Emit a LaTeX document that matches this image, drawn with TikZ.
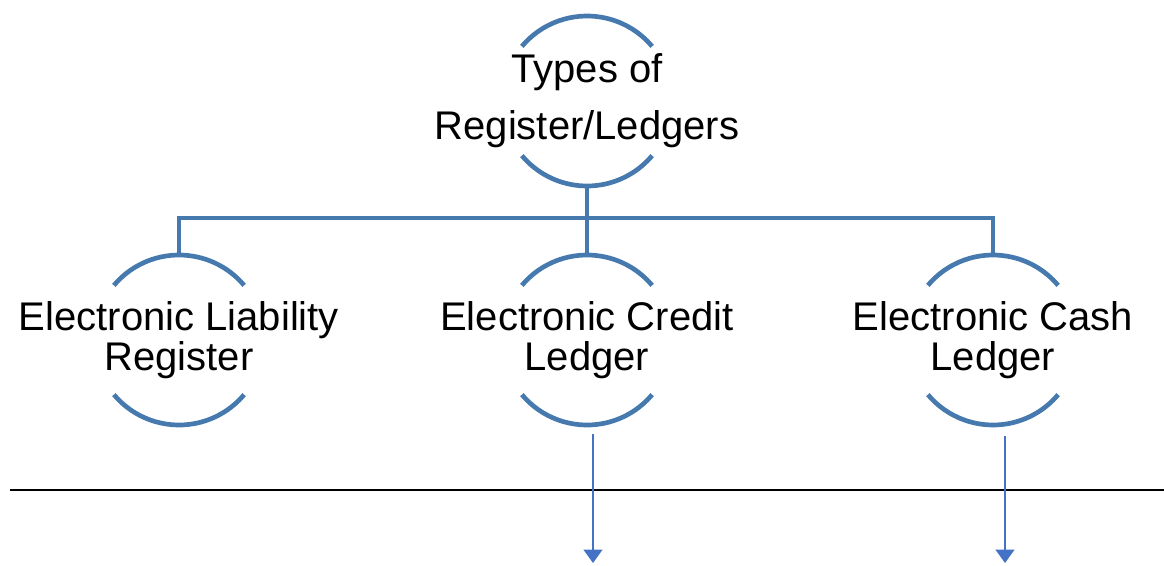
\documentclass[tikz,border=0pt]{standalone}
\usepackage{fontspec}
\setmainfont{Liberation Sans}
\usetikzlibrary{arrows.meta}

\definecolor{ringblue}{RGB}{70,122,174}
\definecolor{arrowblue}{RGB}{68,114,196}

\tikzset{every picture/.style={line width=0.75pt}}
\tikzset{
  ring/.style={circle, minimum size=127.5pt, inner sep=0pt, outer sep=0pt},
  ringtext/.style={font=\fontsize{30}{30}\selectfont, align=center, inner sep=0pt},
  toptext/.style={font=\fontsize{30}{42.75}\selectfont, align=center, inner sep=0pt},
  ringline/.style={draw=ringblue, line width=3.5pt},
  treeline/.style={draw=ringblue, line width=3pt},
  downarrow/.style={draw=arrowblue, line width=1.5pt, -{Triangle[width=14pt,length=10pt]}},
}

\begin{document}
\begin{tikzpicture}[x=0.75pt,y=0.75pt,yscale=-1,xscale=1]
\useasboundingbox (0,0) rectangle (1164,565);

% Text Node
\node [ring, label={[toptext]center:Types of\\Register/Ledgers}] (types) at (587,101) {};
% Text Node
\node [ring, label={[ringtext]center:Electronic Liability\\Register}] (liab) at (179,340) {};
% Text Node
\node [ring, label={[ringtext]center:Electronic Credit\\Ledger}] (credit) at (587,340) {};
% Text Node
\node [ring, label={[ringtext]center:Electronic Cash\\Ledger}] (cash) at (993,340) {};

%Arcs
\draw [ringline] (types.140) arc[start angle=-140, end angle=-40, radius=85];
\draw [ringline] (types.-140) arc[start angle=140, end angle=40, radius=85];
\draw [ringline] (liab.140) arc[start angle=-140, end angle=-40, radius=85];
\draw [ringline] (liab.-140) arc[start angle=140, end angle=40, radius=85];
\draw [ringline] (credit.140) arc[start angle=-140, end angle=-40, radius=85];
\draw [ringline] (credit.-140) arc[start angle=140, end angle=40, radius=85];
\draw [ringline] (cash.140) arc[start angle=-140, end angle=-40, radius=85];
\draw [ringline] (cash.-140) arc[start angle=140, end angle=40, radius=85];

%Connectors
\coordinate (bus) at (587,218);
\draw [treeline] (types.south) -- (bus);
\draw [treeline] (bus) -| (liab.north);
\draw [treeline] (bus) -- (credit.north);
\draw [treeline] (bus) -| (cash.north);

%Straight Lines
\coordinate (lineL) at (10,490);
\coordinate (lineR) at (1164,490);
\draw [line width=1.5pt] (lineL) -- (lineR);

%Arrows
\coordinate (creditend) at (593,563);
\coordinate (cashend) at (1005,563);
\draw [downarrow] ([xshift=4.5pt,yshift=6.75pt]credit.south) -- (creditend);
\draw [downarrow] ([xshift=9pt,yshift=8.25pt]cash.south) -- (cashend);

\end{tikzpicture}
\end{document}
